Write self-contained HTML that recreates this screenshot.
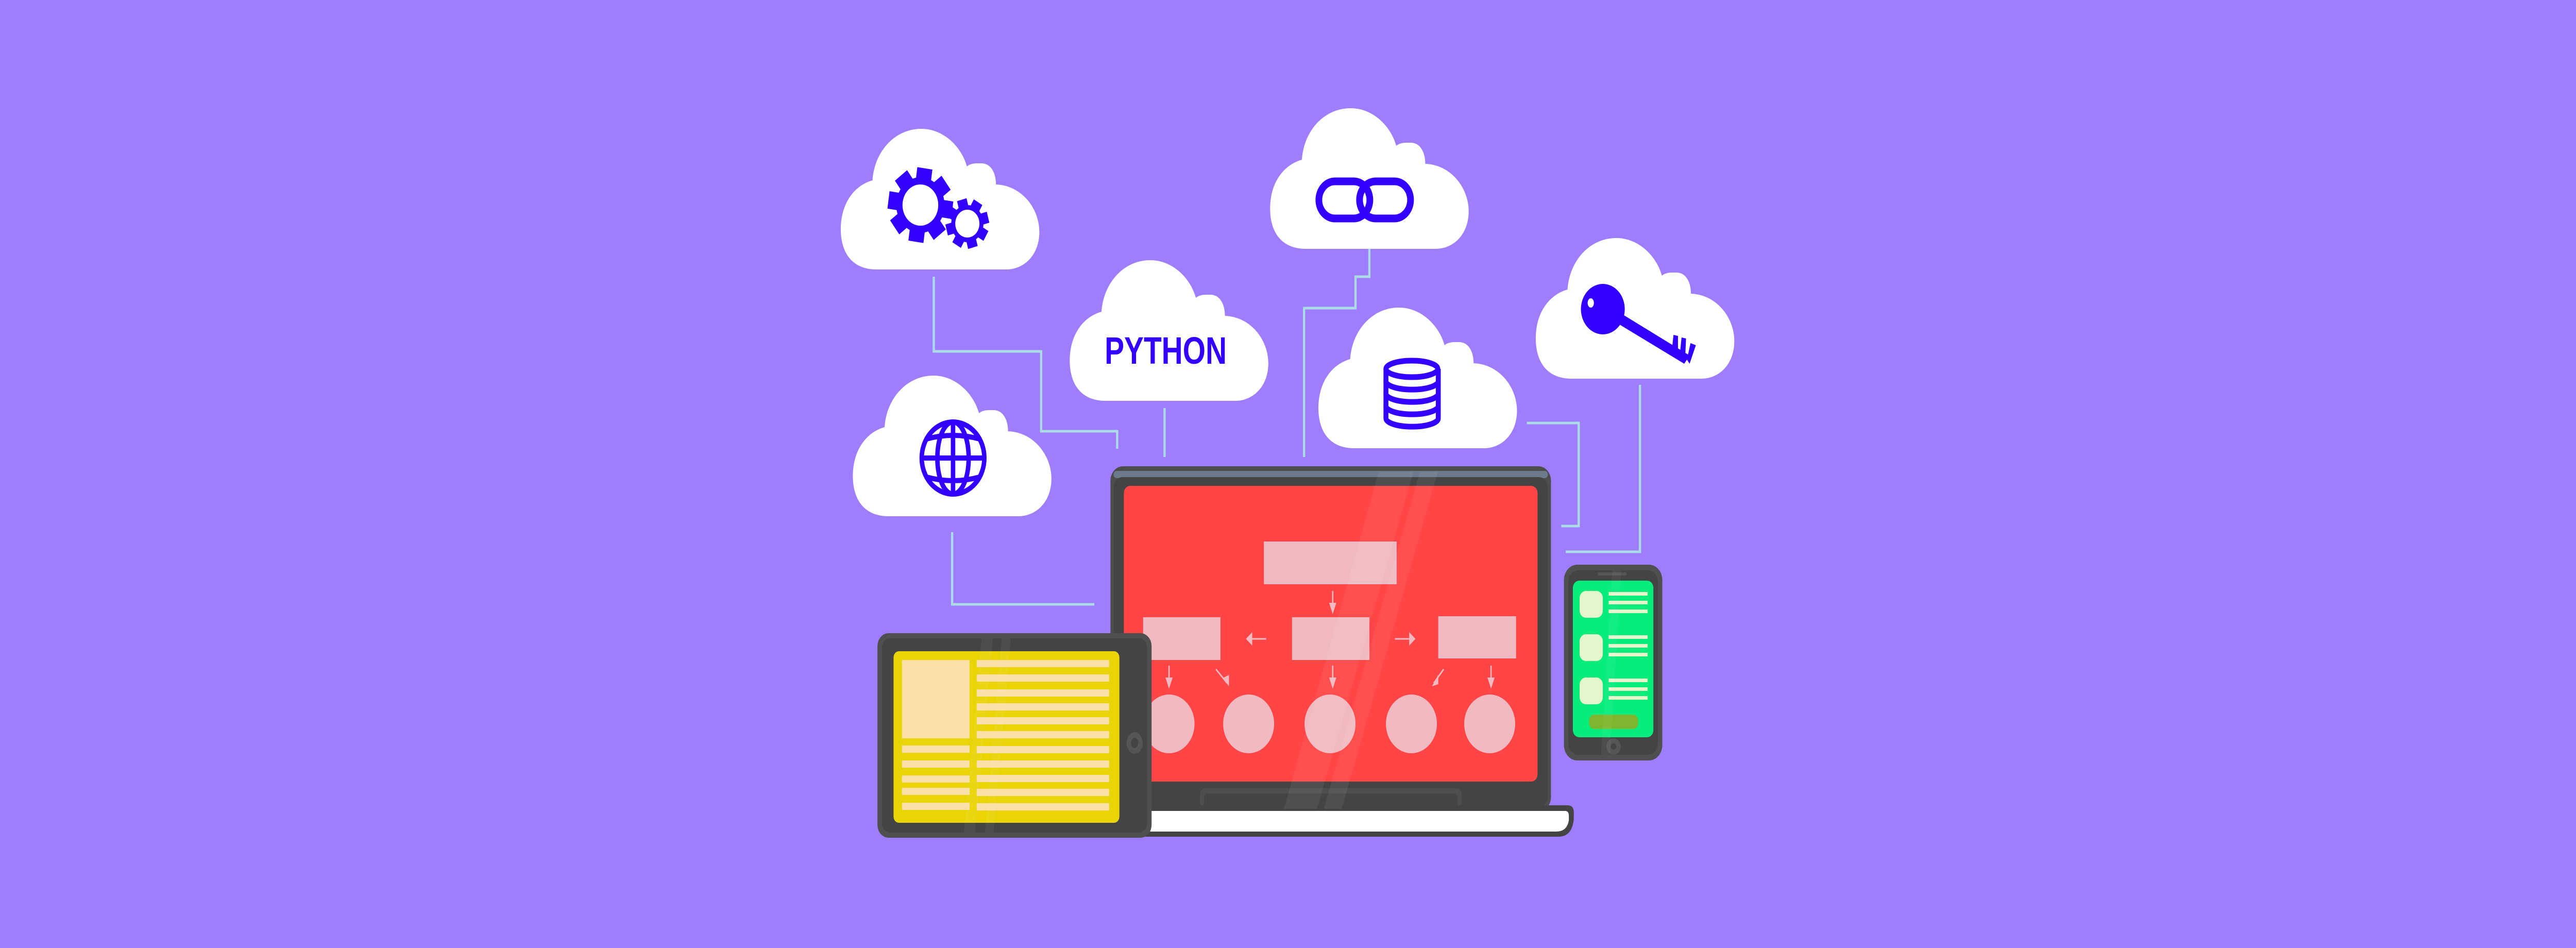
<!DOCTYPE html>
<html><head><meta charset="utf-8"><style>
html,body{margin:0;padding:0;background:#9F7EFE;width:100%;height:100%;overflow:hidden;}
svg{display:block;width:100vw;height:100vh;position:absolute;left:0;top:0}
</style></head><body>
<svg viewBox="0 0 5760 1840" preserveAspectRatio="none" xmlns="http://www.w3.org/2000/svg">
<defs>
<path id="cl" d="M80,273 C25,273 0,240 0,195 C0,145 30,110 71,100 C75,45 120,0 180,0 C230,0 270,35 282,73 C292,66 303,67 315,67 C335,67 347,85 347,108 C405,110 444,155 444,200 C444,245 410,273 370,273 Z" fill="#fff"/>
</defs>
<rect width="5760" height="1840" fill="#9F7EFE"/>

<g fill="none" stroke="#ABDCE6" stroke-width="5">
<polyline points="2088,537 2088,682 2328,682 2328,837 2498,837 2498,871"/>
<polyline points="2604,792 2604,887"/>
<polyline points="3062,480 3062,537 3031,537 3031,598 2916,598 2916,887"/>
<polyline points="3414,821 3530,821 3530,1021 3491,1021"/>
<polyline points="3667,747 3667,1071 3501,1071"/>
<polyline points="2129,1033 2129,1173 2447,1173"/>
</g>

<use href="#cl" x="1880" y="250"/>
<use href="#cl" x="2840" y="210"/>
<use href="#cl" x="2392" y="505"/>
<use href="#cl" x="3434" y="462"/>
<use href="#cl" x="1907" y="729"/>
<use href="#cl" x="2948" y="597"/>

<g fill="#3300FF">
<g transform="translate(2058,398) rotate(8)">
<circle r="54"/>
<g><rect x="-17" y="-72" width="34" height="30"/><rect x="-17" y="42" width="34" height="30"/>
<rect x="-72" y="-17" width="30" height="34"/><rect x="42" y="-17" width="30" height="34"/>
<g transform="rotate(45)"><rect x="-17" y="-72" width="34" height="30"/><rect x="-17" y="42" width="34" height="30"/>
<rect x="-72" y="-17" width="30" height="34"/><rect x="42" y="-17" width="30" height="34"/></g></g>
</g>
<g transform="translate(2163,434) rotate(-15)">
<circle r="36"/>
<rect x="-11" y="-48" width="22" height="20"/><rect x="-11" y="28" width="22" height="20"/>
<rect x="-48" y="-11" width="20" height="22"/><rect x="28" y="-11" width="20" height="22"/>
<g transform="rotate(45)"><rect x="-11" y="-48" width="22" height="20"/><rect x="-11" y="28" width="22" height="20"/>
<rect x="-48" y="-11" width="20" height="22"/><rect x="28" y="-11" width="20" height="22"/></g>
</g>
</g>
<circle cx="2058" cy="398" r="40" fill="#fff"/>
<circle cx="2163" cy="434" r="27" fill="#fff"/>

<g fill="none" stroke="#3300FF" stroke-width="15">
<rect x="2949" y="352" width="114" height="72" rx="36"/>
<rect x="3040" y="352" width="114" height="72" rx="36"/>
</g>

<text x="2470" y="706" font-family="Liberation Sans, sans-serif" font-weight="bold" font-size="74" fill="#3300FF" textLength="273" lengthAdjust="spacingAndGlyphs">PYTHON</text>

<g fill="none" stroke="#3300FF" stroke-width="11">
<ellipse cx="3157" cy="716" rx="58" ry="16"/>
<path d="M3099,716 V812 M3216,716 V812"/>
<path d="M3099,740 A58,16 0 0 0 3216,740"/>
<path d="M3099,764 A58,16 0 0 0 3216,764"/>
<path d="M3099,788 A58,16 0 0 0 3216,788"/>
<path d="M3099,812 A58,16 0 0 0 3216,812"/>
</g>

<g fill="none" stroke="#3300FF" stroke-width="10">
<circle cx="2131" cy="889" r="70"/>
<ellipse cx="2131" cy="889" rx="35" ry="70"/>
<line x1="2131" y1="819" x2="2131" y2="959"/>
<line x1="2061" y1="889" x2="2201" y2="889"/>
<path d="M2072,852 Q2131,838 2190,852"/>
<path d="M2072,926 Q2131,940 2190,926"/>
</g>

<g fill="#3300FF">
<circle cx="3584" cy="600" r="49"/>
<polygon points="3612,625 3624,608 3778,690 3766,706"/>
<polygon points="3738,682 3742,650 3752,652 3752,688"/>
<polygon points="3756,690 3760,655 3770,657 3768,697"/>
<polygon points="3772,698 3780,666 3792,670 3778,706"/>
</g>
<ellipse cx="3557" cy="588" rx="7" ry="9" fill="#fff"/>

<rect x="2483" y="905" width="985" height="670" rx="28" fill="#4d4d4d"/>
<rect x="2490" y="914" width="971" height="14" rx="7" fill="#6c7b8b"/>
<rect x="2490" y="926" width="971" height="640" rx="20" fill="#444"/>
<rect x="2513" y="943" width="925" height="574" rx="14" fill="#FF4545"/>
<rect x="2683" y="1530" width="585" height="40" rx="12" fill="#4e4e4e"/>
<rect x="2692" y="1540" width="567" height="30" rx="8" fill="#444"/>
<path d="M2556,1563 H3505 Q3519,1563 3519,1577 V1590 Q3515,1624 3485,1624 H2556 Z" fill="#444"/>
<path d="M2556,1574 H3500 Q3508,1574 3508,1584 V1592 Q3504,1614 3480,1614 H2556 Z" fill="#fff"/>

<g fill="#F1BAC2">
<rect x="2826" y="1051" width="297" height="83"/>
<rect x="2556" y="1198" width="173" height="83"/>
<rect x="2889" y="1198" width="173" height="83"/>
<rect x="3216" y="1196" width="174" height="82"/>
<ellipse cx="2614" cy="1405" rx="57" ry="57"/>
<ellipse cx="2792" cy="1405" rx="57" ry="57"/>
<ellipse cx="2974" cy="1405" rx="57" ry="57"/>
<ellipse cx="3156" cy="1405" rx="57" ry="57"/>
<ellipse cx="3331" cy="1405" rx="57" ry="57"/>
<polygon points="2972,1170 2988,1170 2980,1192"/>
<polygon points="2786,1240 2800,1227 2800,1253"/>
<polygon points="3165,1240 3151,1227 3151,1253"/>
<polygon points="2606,1315 2622,1315 2614,1337"/>
<polygon points="2972,1315 2988,1315 2980,1337"/>
<polygon points="3326,1315 3342,1315 3334,1337"/>
<polygon points="2734,1316 2748,1310 2748,1332"/>
<polygon points="3216,1310 3202,1332 3216,1328"/>
</g>
<g stroke="#F1BAC2" stroke-width="3">
<line x1="2980" y1="1147" x2="2980" y2="1172"/>
<line x1="2800" y1="1240" x2="2831" y2="1240"/>
<line x1="3119" y1="1240" x2="3151" y2="1240"/>
<line x1="2614" y1="1292" x2="2614" y2="1317"/>
<line x1="2980" y1="1292" x2="2980" y2="1317"/>
<line x1="3334" y1="1292" x2="3334" y2="1317"/>
<line x1="2719" y1="1299" x2="2744" y2="1326"/>
<line x1="3228" y1="1299" x2="3206" y2="1326"/>
</g>
<polygon points="3083,916 3160,916 2945,1570 2871,1570" fill="#fff" opacity="0.06"/>
<polygon points="3175,916 3215,916 3000,1570 2960,1570" fill="#fff" opacity="0.06"/>

<rect x="1962" y="1229" width="613" height="397" rx="25" fill="#4f4f4f"/>
<rect x="1972" y="1239" width="593" height="377" rx="18" fill="#444"/>
<rect x="1998" y="1264" width="505" height="333" rx="12" fill="#E9D405"/>
<g fill="#FBDFA8">
<rect x="2017" y="1281" width="151" height="152"/>
<rect x="2017" y="1447" width="151" height="14"/>
<rect x="2017" y="1476" width="151" height="14"/>
<rect x="2017" y="1505" width="151" height="14"/>
<rect x="2017" y="1529" width="151" height="14"/>
<rect x="2017" y="1558" width="151" height="14"/>
<rect x="2184" y="1281" width="296" height="14"/>
<rect x="2184" y="1309" width="296" height="14"/>
<rect x="2184" y="1338" width="296" height="14"/>
<rect x="2184" y="1365" width="296" height="14"/>
<rect x="2184" y="1392" width="296" height="14"/>
<rect x="2184" y="1419" width="296" height="14"/>
<rect x="2184" y="1448" width="296" height="14"/>
<rect x="2184" y="1476" width="296" height="14"/>
<rect x="2184" y="1504" width="296" height="14"/>
<rect x="2184" y="1531" width="296" height="14"/>
<rect x="2184" y="1559" width="296" height="14"/>
</g>
<ellipse cx="2537" cy="1442" rx="18" ry="21" fill="#555"/>
<ellipse cx="2537" cy="1442" rx="8" ry="10" fill="#444"/>
<polygon points="2195,1239 2220,1239 2180,1616 2155,1616" fill="#fff" opacity="0.05"/>
<polygon points="2240,1239 2260,1239 2222,1616 2202,1616" fill="#fff" opacity="0.05"/>

<rect x="3497" y="1096" width="220" height="380" rx="30" fill="#4f4f4f"/>
<rect x="3507" y="1107" width="200" height="358" rx="22" fill="#444"/>
<rect x="3572" y="1111" width="65" height="6" rx="3" fill="#555"/>
<rect x="3517" y="1127" width="180" height="304" rx="14" fill="#06EC7D"/>
<g fill="#E6F6CC">
<rect x="3532" y="1147" width="52" height="52" rx="14"/>
<rect x="3532" y="1231" width="52" height="52" rx="14"/>
<rect x="3532" y="1315" width="52" height="52" rx="14"/>
<rect x="3597" y="1149" width="87" height="7"/><rect x="3597" y="1166" width="87" height="7"/><rect x="3597" y="1183" width="87" height="7"/>
<rect x="3597" y="1233" width="87" height="7"/><rect x="3597" y="1250" width="87" height="7"/><rect x="3597" y="1267" width="87" height="7"/>
<rect x="3597" y="1317" width="87" height="7"/><rect x="3597" y="1334" width="87" height="7"/><rect x="3597" y="1351" width="87" height="7"/>
</g>
<rect x="3553" y="1387" width="110" height="28" rx="12" fill="#80B52F"/>
<circle cx="3608" cy="1449" r="16" fill="#555"/>
<circle cx="3608" cy="1449" r="6" fill="#444"/>
<polygon points="3605,1107 3625,1107 3600,1465 3580,1465" fill="#fff" opacity="0.05"/>
</svg>
</body></html>
